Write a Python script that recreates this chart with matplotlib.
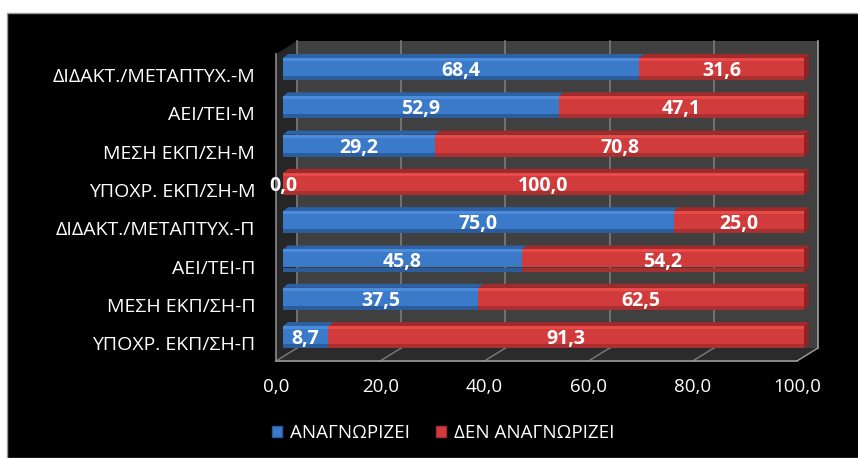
import numpy as np
import matplotlib
matplotlib.use('Agg')
import matplotlib.pyplot as plt
from matplotlib.patches import Polygon, Rectangle, Patch
from matplotlib.transforms import ScaledTranslation

plt.rcParams['font.family'] = ['Open Sans', 'DejaVu Sans']

# data
categories = ['ΔΙΔΑΚΤ./ΜΕΤΑΠΤΥΧ.-Μ', 'ΑΕΙ/ΤΕΙ-Μ', 'ΜΕΣΗ ΕΚΠ/ΣΗ-Μ', 'ΥΠΟΧΡ. ΕΚΠ/ΣΗ-Μ',
              'ΔΙΔΑΚΤ./ΜΕΤΑΠΤΥΧ.-Π', 'ΑΕΙ/ΤΕΙ-Π', 'ΜΕΣΗ ΕΚΠ/ΣΗ-Π', 'ΥΠΟΧΡ. ΕΚΠ/ΣΗ-Π']
recognize = [68.4, 52.9, 29.2, 0.0, 75.0, 45.8, 37.5, 8.7]
not_recognize = [31.6, 47.1, 70.8, 100.0, 25.0, 54.2, 62.5, 91.3]
series_names = ['ΑΝΑΓΝΩΡΙΖΕΙ', 'ΔΕΝ ΑΝΑΓΝΩΡΙΖΕΙ']
xticks = [0, 20, 40, 60, 80, 100]

# colours: top face, highlight, main, bottom shade, end face
blue = dict(top='#2d62a6', hi='#4b8ddb', main='#3b79c9', low='#2b5c9c', side='#254f88')
red = dict(top='#a32a2a', hi='#e84a4a', main='#d13b3b', low='#a83030', side='#8e2424')

W, H = 858, 458
fig = plt.figure(figsize=(W/100, H/100), dpi=100)
fig.patch.set_facecolor('white')
fig.patches.append(Rectangle((7/W, 0), 1, 1-13/H, transform=fig.transFigure,
                             facecolor='black', edgecolor='#9a9a9a', lw=1, zorder=-2))

# front plane of the 3d box, in pixels
left, right, top, bottom = 276, 797, 54, 361
ax = fig.add_axes([left/W, 1-bottom/H, (right-left)/W, (bottom-top)/H])
ax.set_facecolor('none')
for s in ax.spines.values():
    s.set_visible(False)

first_c, step = 75, 38.3
y_top = (top-first_c)/step
y_bot = (bottom-first_c)/step
ax.set_xlim(0, 100)
ax.set_ylim(y_bot, y_top)

def off(dx, dy):
    return ax.transData + ScaledTranslation(dx/100, dy/100, fig.dpi_scale_trans)

depth_x, depth_y = 21, 13
back = off(depth_x, depth_y)
front = ax.transData

def quad(p_front, color, z):
    # polygon between two points on the front plane and their back copies
    (x1, y1), (x2, y2) = p_front
    pts = [front.transform((x1, y1)), front.transform((x2, y2)),
           back.transform((x2, y2)), back.transform((x1, y1))]
    pts = fig.transFigure.inverted().transform(pts)
    fig.patches.append(Polygon(pts, closed=True, transform=fig.transFigure,
                               facecolor=color, edgecolor='none', zorder=z))

# back wall
ax.add_patch(Rectangle((0, y_bot), 100, y_top-y_bot, transform=back,
                       facecolor='#404040', edgecolor='none', zorder=0, clip_on=False))
for xt in xticks:
    lc = '#a0a0a0' if xt == 100 else '#7c7c7c'
    ax.plot([xt, xt], [y_bot, y_top], color=lc, lw=1.2, transform=back,
            zorder=1, clip_on=False)

# side wall and floor
quad([(0, y_top), (0, y_bot)], '#262626', -1)
quad([(0, y_bot), (100, y_bot)], '#2b2b2b', -1)
for xt in xticks:
    p1 = front.transform((xt, y_bot))
    p2 = back.transform((xt, y_bot))
    pts = fig.transFigure.inverted().transform([p1, p2])
    lc = '#a0a0a0' if xt == 100 else '#7c7c7c'
    fig.lines.append(plt.Line2D(pts[:, 0], pts[:, 1], transform=fig.transFigure,
                                color=lc, lw=1, zorder=-0.5))
ax.plot([0, 100], [y_bot, y_bot], color='#9a9a9a', lw=1.2, clip_on=False, zorder=2)
ax.plot([0, 0], [y_bot, y_top], color='#8a8a8a', lw=1.2, clip_on=False, zorder=2)

# bars
bar_tr = off(7, 6)
face_h = 22/step
top_tr = off(12, 10)

def bar3d(i, x0, w, pal):
    if w <= 0:
        return
    y0 = i - face_h/2
    px = 1/step
    strips = [(0, 3*px, pal['hi']), (3*px, face_h-7*px, pal['main']),
              (face_h-4*px, 4*px, pal['low'])]
    # top face
    p = [bar_tr.transform((x0, y0)), bar_tr.transform((x0+w, y0)),
         top_tr.transform((x0+w, y0)), top_tr.transform((x0, y0))]
    p = ax.transData.inverted().transform(p)
    ax.add_patch(Polygon(p, closed=True, facecolor=pal['top'], edgecolor='none',
                         zorder=3, clip_on=False))
    for ys, hs, c in strips:
        ax.add_patch(Rectangle((x0, y0+ys), w, hs, transform=bar_tr, facecolor=c,
                               edgecolor='none', zorder=4, clip_on=False))
    if x0 + w >= 99.9:
        p = [bar_tr.transform((x0+w, y0)), top_tr.transform((x0+w, y0)),
             top_tr.transform((x0+w, y0+face_h)), bar_tr.transform((x0+w, y0+face_h))]
        p = ax.transData.inverted().transform(p)
        ax.add_patch(Polygon(p, closed=True, facecolor=pal['side'], edgecolor='none',
                             zorder=3.5, clip_on=False))

def fmt(v):
    return f'{v:.1f}'.replace('.', ',')

lab_tr = off(7, 4)
for i in range(len(categories)):
    a, b = recognize[i], not_recognize[i]
    bar3d(i, a, b, red)
    bar3d(i, 0, a, blue)
    ax.text(a/2, i, fmt(a), transform=lab_tr, ha='center', va='center', color='white',
            fontsize=14, fontweight='bold', zorder=6, clip_on=False)
    ax.text(a+b/2, i, fmt(b), transform=lab_tr, ha='center', va='center', color='white',
            fontsize=14, fontweight='bold', zorder=6, clip_on=False)

ax.set_yticks(range(len(categories)))
ax.set_yticklabels(categories, fontsize=14, color='white')
ax.set_xticks(xticks)
ax.set_xticklabels([fmt(v) for v in xticks], fontsize=13.5, color='white')
ax.tick_params(axis='y', length=0, pad=15)
ax.tick_params(axis='x', length=0, pad=12)

handles = [Patch(facecolor=blue['main'], edgecolor=blue['low']),
           Patch(facecolor=red['main'], edgecolor=red['low'])]
fig.legend(handles, series_names, loc='center', bbox_to_anchor=(443/W, 1-433/H), ncol=2,
           frameon=False, labelcolor='white', fontsize=13.5, handlelength=0.55,
           handleheight=0.55, handletextpad=0.4, columnspacing=1.4)

fig.savefig('out.png', dpi=100, facecolor=fig.get_facecolor())
